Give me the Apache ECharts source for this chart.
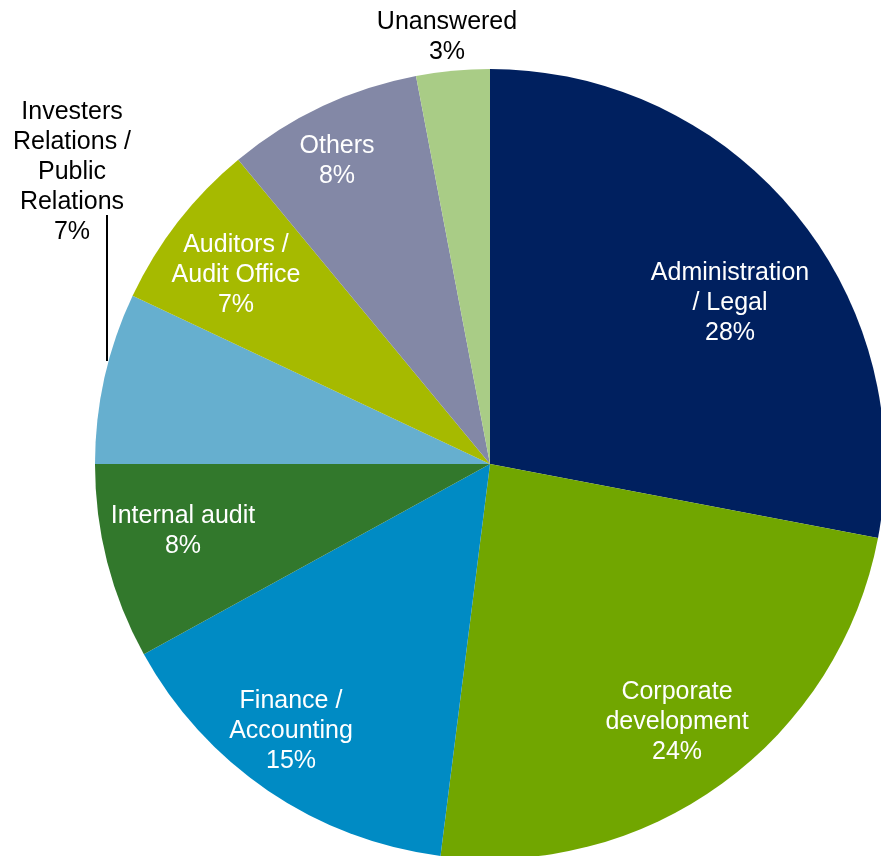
<!DOCTYPE html>
<html>
<head>
<meta charset="utf-8">
<script src="https://cdn.jsdelivr.net/npm/echarts@6/dist/echarts.min.js"></script>
<style>
  html, body { margin: 0; padding: 0; background: #ffffff; }
  #chart { width: 881px; height: 856px; }
</style>
</head>
<body>
<div id="chart"></div>
<script>
// Survey split by department (share of respondents, %)
const categories = [
  'Administration\n/ Legal',
  'Corporate\ndevelopment',
  'Finance /\nAccounting',
  'Internal audit',
  'Investers\nRelations /\nPublic\nRelations',
  'Auditors /\nAudit Office',
  'Others',
  'Unanswered'
];
const shares = [28, 24, 15, 8, 7, 7, 8, 3];

// Slice colours, in the same order as the categories
const sliceColors = ['#00205f', '#71a600', '#008bc4', '#32782c', '#66afcf', '#a6ba00', '#8388a6', '#a9cc86'];
// Label text colour and placement of each label block (centre, px)
const labelColors = ['#fff', '#fff', '#fff', '#fff', '#000', '#fff', '#fff', '#000'];
const labelCenters = [[730, 303], [677, 722], [291, 731], [183, 531], [72, 172], [236, 275], [337, 161], [447, 37]];
// Leader line for the label that sits outside the pie
const leaderLines = { 4: [[107, 361], [107, 288], [107, 215]] };

const chart = echarts.init(document.getElementById('chart'), null, { renderer: 'canvas' });

const data = categories.map((name, i) => ({
  name: name,
  value: shares[i],
  itemStyle: { color: sliceColors[i] },
  label: {
    color: labelColors[i],
    position: leaderLines[i] ? 'outside' : 'inside'
  },
  labelLine: { show: !!leaderLines[i] }
}));

chart.setOption({
  animation: false,
  series: [{
    type: 'pie',
    center: [490, 464],
    radius: [0, 395],
    startAngle: 90,
    clockwise: true,
    avoidLabelOverlap: false,
    itemStyle: { borderWidth: 0 },
    label: {
      show: true,
      formatter: p => p.name + '\n' + p.value + '%',
      fontFamily: '"Liberation Sans", Arial, sans-serif',
      fontSize: 25,
      lineHeight: 30,
      align: 'center'
    },
    labelLine: {
      show: false,
      lineStyle: { color: '#000', width: 2 },
      length: 10,
      length2: 10
    },
    labelLayout: function (params) {
      const i = params.dataIndex;
      const c = labelCenters[i];
      const out = { x: c[0], y: c[1], align: 'center', verticalAlign: 'middle' };
      if (leaderLines[i]) out.labelLinePoints = leaderLines[i];
      return out;
    },
    data: data
  }]
});
</script>
</body>
</html>
